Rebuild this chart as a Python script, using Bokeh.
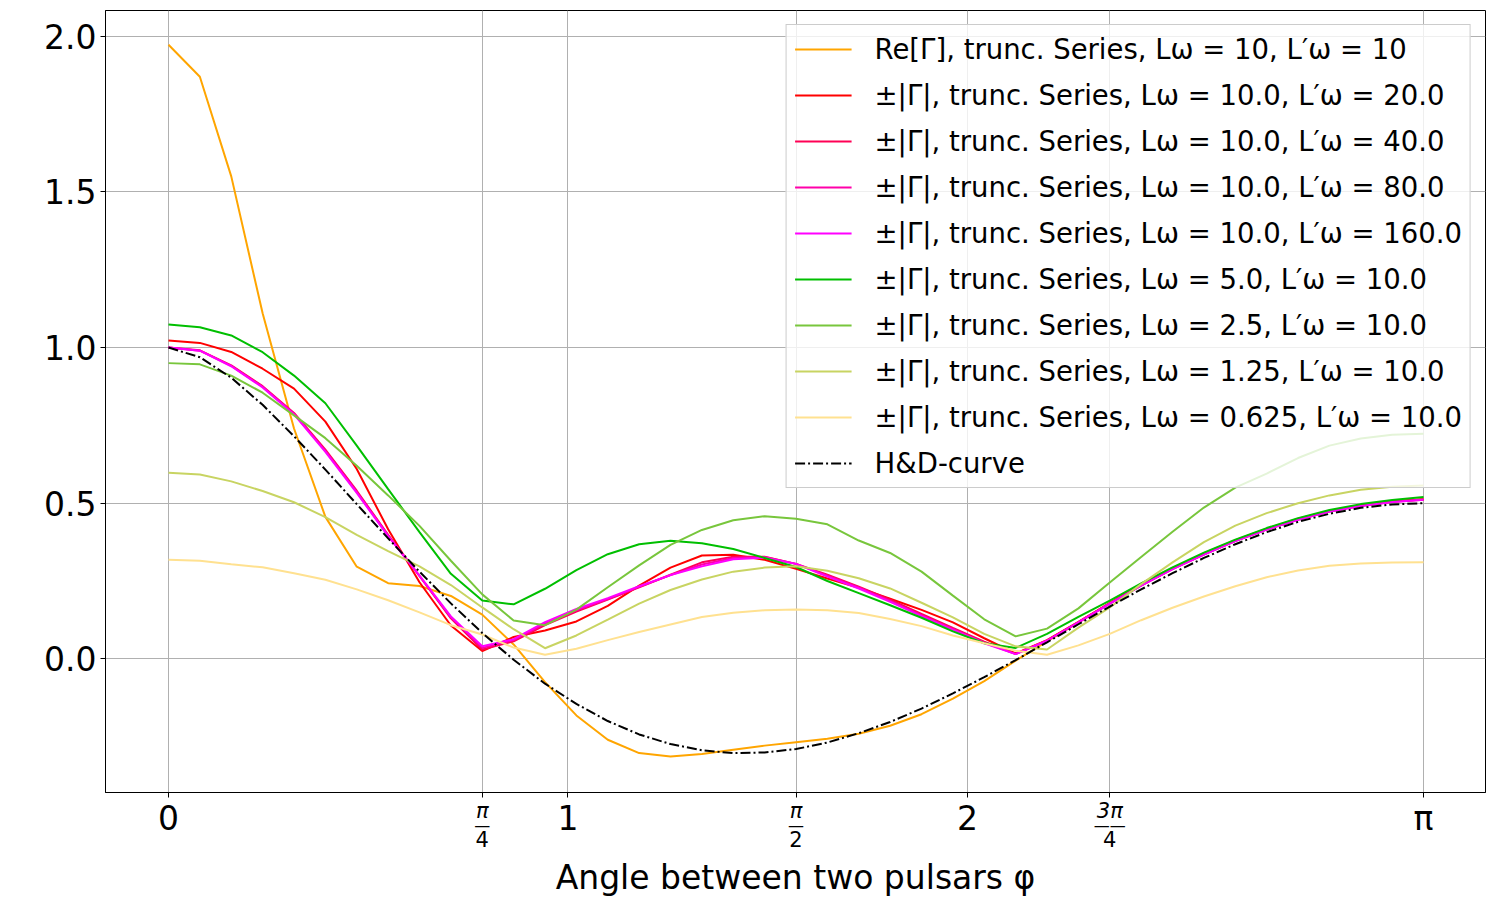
import math
from bokeh.plotting import figure
from bokeh.models import Range1d, FixedTicker, LinearAxis
from bokeh.embed import file_html
from bokeh.resources import INLINE

# ---------------- data ----------------
PHI = [0.0000, 0.0785, 0.1571, 0.2356, 0.3142, 0.3927, 0.4712, 0.5498, 0.6283, 0.7069,
       0.7854, 0.8639, 0.9425, 1.0210, 1.0996, 1.1781, 1.2566, 1.3352, 1.4137, 1.4923,
       1.5708, 1.6493, 1.7279, 1.8064, 1.8850, 1.9635, 2.0420, 2.1206, 2.1991, 2.2777,
       2.3562, 2.4347, 2.5133, 2.5918, 2.6704, 2.7489, 2.8274, 2.9060, 2.9845, 3.0631,
       3.1416]

RE_GAMMA_10_10 = [1.973, 1.870, 1.550, 1.110, 0.740, 0.456, 0.296, 0.243, 0.234, 0.202,
                  0.142, 0.046, -0.075, -0.182, -0.260, -0.303, -0.314, -0.306, -0.292, -0.279,
                  -0.268, -0.257, -0.241, -0.215, -0.178, -0.128, -0.072, -0.006, 0.056, 0.116,
                  0.180, 0.239, 0.292, 0.339, 0.381, 0.418, 0.450, 0.476, 0.494, 0.506,
                  0.512]
ABS_10_20 = [1.023, 1.015, 0.986, 0.932, 0.868, 0.762, 0.610, 0.416, 0.246, 0.107,
             0.025, 0.070, 0.091, 0.120, 0.170, 0.235, 0.293, 0.332, 0.334, 0.318,
             0.289, 0.258, 0.228, 0.193, 0.157, 0.117, 0.066, 0.017, 0.060, 0.119,
             0.179, 0.237, 0.290, 0.337, 0.380, 0.417, 0.449, 0.475, 0.493, 0.506,
             0.513]
ABS_10_40 = [1.000, 0.991, 0.943, 0.876, 0.790, 0.672, 0.540, 0.398, 0.266, 0.130,
             0.030, 0.056, 0.108, 0.152, 0.190, 0.230, 0.270, 0.310, 0.328, 0.328,
             0.305, 0.270, 0.232, 0.190, 0.144, 0.099, 0.055, 0.016, 0.059, 0.118,
             0.178, 0.236, 0.289, 0.336, 0.379, 0.416, 0.448, 0.474, 0.492, 0.505,
             0.512]
ABS_10_80 = [1.000, 0.990, 0.941, 0.874, 0.787, 0.668, 0.536, 0.396, 0.266, 0.133,
             0.035, 0.060, 0.113, 0.156, 0.192, 0.231, 0.269, 0.303, 0.324, 0.327,
             0.305, 0.267, 0.229, 0.186, 0.140, 0.096, 0.052, 0.015, 0.058, 0.117,
             0.177, 0.235, 0.288, 0.335, 0.378, 0.415, 0.447, 0.473, 0.491, 0.504,
             0.511]
ABS_10_160 = [1.000, 0.990, 0.940, 0.872, 0.785, 0.665, 0.533, 0.394, 0.267, 0.136,
              0.040, 0.063, 0.118, 0.160, 0.195, 0.233, 0.269, 0.297, 0.320, 0.325,
              0.305, 0.264, 0.226, 0.183, 0.137, 0.093, 0.050, 0.015, 0.058, 0.117,
              0.177, 0.235, 0.288, 0.335, 0.378, 0.415, 0.447, 0.473, 0.491, 0.504,
              0.511]
ABS_5_10 = [1.074, 1.065, 1.039, 0.985, 0.910, 0.821, 0.685, 0.545, 0.407, 0.273,
            0.187, 0.175, 0.225, 0.285, 0.336, 0.368, 0.379, 0.371, 0.353, 0.324,
            0.295, 0.250, 0.211, 0.172, 0.132, 0.088, 0.050, 0.035, 0.080, 0.135,
            0.187, 0.242, 0.294, 0.341, 0.383, 0.420, 0.452, 0.478, 0.497, 0.510,
            0.520]
ABS_2_5_10 = [0.950, 0.946, 0.910, 0.855, 0.782, 0.709, 0.620, 0.525, 0.427, 0.315,
              0.207, 0.123, 0.108, 0.158, 0.230, 0.300, 0.366, 0.414, 0.445, 0.458,
              0.450, 0.432, 0.380, 0.340, 0.280, 0.203, 0.127, 0.072, 0.097, 0.162,
              0.245, 0.327, 0.408, 0.486, 0.550, 0.595, 0.645, 0.685, 0.708, 0.720,
              0.723]
ABS_1_25_10 = [0.598, 0.592, 0.570, 0.539, 0.503, 0.455, 0.398, 0.346, 0.297, 0.237,
               0.165, 0.095, 0.034, 0.075, 0.126, 0.177, 0.221, 0.255, 0.280, 0.293,
               0.297, 0.283, 0.259, 0.226, 0.180, 0.133, 0.080, 0.040, 0.030, 0.100,
               0.165, 0.240, 0.310, 0.375, 0.428, 0.468, 0.500, 0.525, 0.543, 0.553,
               0.557]
ABS_0_625_10 = [0.318, 0.315, 0.304, 0.294, 0.275, 0.254, 0.223, 0.188, 0.149, 0.108,
                0.078, 0.036, 0.013, 0.032, 0.060, 0.086, 0.110, 0.134, 0.148, 0.156,
                0.158, 0.156, 0.147, 0.128, 0.105, 0.075, 0.050, 0.026, 0.013, 0.043,
                0.080, 0.124, 0.164, 0.200, 0.233, 0.262, 0.284, 0.299, 0.306, 0.309,
                0.310]
HD_CURVE = [1.000, 0.969, 0.903, 0.816, 0.715, 0.608, 0.497, 0.387, 0.280, 0.178,
            0.083, -0.003, -0.080, -0.145, -0.200, -0.243, -0.274, -0.294, -0.303, -0.301,
            -0.290, -0.269, -0.239, -0.203, -0.160, -0.111, -0.059, -0.004, 0.053, 0.111,
            0.168, 0.223, 0.275, 0.324, 0.368, 0.407, 0.440, 0.466, 0.485, 0.496,
            0.500]

SERIES = [
    ("Re[Γ], trunc. Series, Lω = 10, L′ω = 10", RE_GAMMA_10_10, "#FFA500"),
    ("±|Γ|, trunc. Series, Lω = 10.0, L′ω = 20.0", ABS_10_20, "#FF0000"),
    ("±|Γ|, trunc. Series, Lω = 10.0, L′ω = 40.0", ABS_10_40, "#FF0055"),
    ("±|Γ|, trunc. Series, Lω = 10.0, L′ω = 80.0", ABS_10_80, "#FF00AA"),
    ("±|Γ|, trunc. Series, Lω = 10.0, L′ω = 160.0", ABS_10_160, "#FF00FF"),
    ("±|Γ|, trunc. Series, Lω = 5.0, L′ω = 10.0", ABS_5_10, "#00BF00"),
    ("±|Γ|, trunc. Series, Lω = 2.5, L′ω = 10.0", ABS_2_5_10, "#78C63C"),
    ("±|Γ|, trunc. Series, Lω = 1.25, L′ω = 10.0", ABS_1_25_10, "#C8D462"),
    ("±|Γ|, trunc. Series, Lω = 0.625, L′ω = 10.0", ABS_0_625_10, "#FFE190"),
]
HD_LABEL = "H&D-curve"

X_TICKS = [0.0, math.pi / 4, 1.0, math.pi / 2, 2.0, 3 * math.pi / 4, math.pi]
X_NUM_TEXT = ["", "π", "", "π", "", "3π", ""]
INT_TICKS = [0.0, 1.0, 2.0, math.pi]
INT_TEXT = ["0", "1", "2", "π"]
FRAC_TICKS = [math.pi / 4, math.pi / 2, 3 * math.pi / 4]
FRAC_BAR = ["—", "—", "——"]
FRAC_DEN = ["4", "2", "4"]
Y_TICKS = [0.0, 0.5, 1.0, 1.5, 2.0]
Y_TICK_TEXT = ["0.0", "0.5", "1.0", "1.5", "2.0"]
X_LABEL = "Angle between two pulsars φ"

X_MIN, X_MAX = -0.1577, 3.2967
Y_MIN, Y_MAX = -0.4296, 2.083
FONT = "DejaVu Sans"

# ---------------- figure ----------------
p = figure(width=1500, height=900, output_backend="svg", toolbar_location=None,
           x_range=Range1d(X_MIN, X_MAX), y_range=Range1d(Y_MIN, Y_MAX),
           min_border_left=105, min_border_right=15, min_border_top=10, min_border_bottom=108)
p.background_fill_color = "white"
p.border_fill_color = "white"
p.outline_line_color = "black"
p.outline_line_width = 1
p.outline_line_alpha = 1.0

for label, ys, color in SERIES:
    p.line(PHI, ys, line_color=color, line_width=2, legend_label=label)
p.line(PHI, HD_CURVE, line_color="black", line_width=2, line_dash="10 3 2 3", legend_label=HD_LABEL)

# ---- y axis
ya = p.yaxis[0]
ya.ticker = FixedTicker(ticks=Y_TICKS)
ya.major_label_overrides = {t: s for t, s in zip(Y_TICKS, Y_TICK_TEXT)}
ya.axis_line_color = "black"
ya.major_tick_line_color = "black"
ya.major_tick_out = 5
ya.major_tick_in = 0
ya.minor_tick_out = 0
ya.minor_tick_in = 0
ya.major_label_text_font = FONT
ya.major_label_text_font_size = "33px"
ya.major_label_text_color = "black"
ya.major_label_standoff = 4


def label_axis(ticks, texts, standoff, size, style="normal", tick_out=0):
    ax = LinearAxis(ticker=FixedTicker(ticks=ticks),
                    major_label_overrides={t: s for t, s in zip(ticks, texts)})
    ax.axis_line_color = "black" if tick_out else None
    ax.major_tick_line_color = "black" if tick_out else None
    ax.minor_tick_line_color = None
    ax.major_tick_out = tick_out
    ax.major_tick_in = 0
    ax.minor_tick_out = 0
    ax.minor_tick_in = 0
    ax.major_label_standoff = standoff
    ax.major_label_text_font = FONT
    ax.major_label_text_font_size = size
    ax.major_label_text_font_style = style
    ax.major_label_text_color = "black"
    return ax


# ---- x axis: tick marks + fraction numerators, bars, denominators, then integer labels + title
ax_num = label_axis(X_TICKS, X_NUM_TEXT, 1, "21px", "italic", tick_out=5)
ax_bar = label_axis(FRAC_TICKS, FRAC_BAR, -10, "16px")
ax_den = label_axis(FRAC_TICKS, FRAC_DEN, -7, "21px")

xa = p.xaxis[0]
xa.ticker = FixedTicker(ticks=INT_TICKS)
xa.major_label_overrides = {t: s for t, s in zip(INT_TICKS, INT_TEXT)}
xa.axis_line_color = None
xa.major_tick_line_color = None
xa.minor_tick_line_color = None
xa.major_tick_out = 0
xa.major_tick_in = 0
xa.minor_tick_out = 0
xa.minor_tick_in = 0
xa.major_label_text_font = FONT
xa.major_label_text_font_size = "33px"
xa.major_label_text_color = "black"
xa.major_label_standoff = -51
xa.axis_label = X_LABEL
xa.axis_label_text_font = FONT
xa.axis_label_text_font_size = "33px"
xa.axis_label_text_font_style = "normal"
xa.axis_label_text_color = "black"
xa.axis_label_standoff = 17

p.below = [ax_num, ax_bar, ax_den, xa]

xg = p.xgrid[0]
xg.ticker = FixedTicker(ticks=X_TICKS)
for g in (xg, p.ygrid[0]):
    g.grid_line_color = "#b0b0b0"
    g.grid_line_width = 1

# ---- legend
lg = p.legend[0]
lg.location = "top_right"
lg.margin = 14
lg.padding = 8
lg.spacing = 14
lg.glyph_width = 57
lg.glyph_height = 30
lg.label_height = 30
lg.label_standoff = 23
lg.label_text_font = FONT
lg.label_text_font_size = "27.5px"
lg.label_text_color = "black"
lg.label_text_baseline = "middle"
lg.background_fill_color = "white"
lg.background_fill_alpha = 0.8
lg.border_line_color = "#cccccc"
lg.border_line_width = 1
lg.border_line_alpha = 1.0

open("out.html", "w").write(file_html(p, INLINE))
